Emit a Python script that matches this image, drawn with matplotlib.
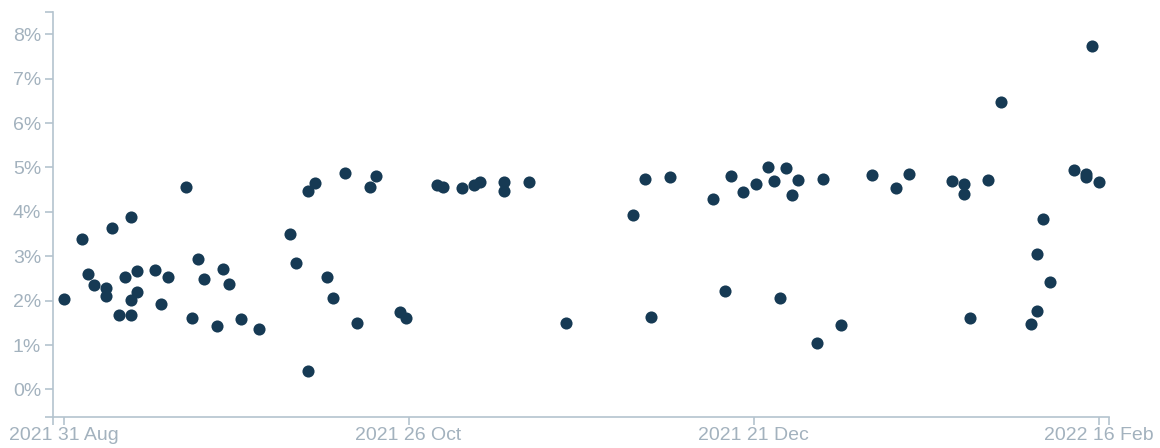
import pandas as pd
import numpy as np
import matplotlib
matplotlib.use('Agg')
import matplotlib.pyplot as plt
import matplotlib.dates as mdates
from matplotlib.ticker import FuncFormatter

dates = ['2021-08-31', '2021-09-03', '2021-09-04', '2021-09-05', '2021-09-07', '2021-09-07',
         '2021-09-08', '2021-09-09', '2021-09-10', '2021-09-11', '2021-09-11', '2021-09-11',
         '2021-09-12', '2021-09-12', '2021-09-15', '2021-09-16', '2021-09-17', '2021-09-20',
         '2021-09-21', '2021-09-22', '2021-09-23', '2021-09-25', '2021-09-26', '2021-09-27',
         '2021-09-29', '2021-10-02', '2021-10-07', '2021-10-08', '2021-10-10', '2021-10-10',
         '2021-10-11', '2021-10-13', '2021-10-14', '2021-10-16', '2021-10-18', '2021-10-20',
         '2021-10-21', '2021-10-25', '2021-10-26', '2021-10-31', '2021-11-01', '2021-11-04',
         '2021-11-06', '2021-11-07', '2021-11-11', '2021-11-11', '2021-11-15', '2021-11-21',
         '2021-12-02', '2021-12-04', '2021-12-05', '2021-12-08', '2021-12-15', '2021-12-17',
         '2021-12-18', '2021-12-20', '2021-12-22', '2021-12-24', '2021-12-25', '2021-12-26',
         '2021-12-27', '2021-12-28', '2021-12-29', '2022-01-01', '2022-01-02', '2022-01-05',
         '2022-01-10', '2022-01-14', '2022-01-16', '2022-01-23', '2022-01-25', '2022-01-25',
         '2022-01-26', '2022-01-29', '2022-01-31', '2022-02-05', '2022-02-06', '2022-02-06',
         '2022-02-07', '2022-02-08', '2022-02-12', '2022-02-14', '2022-02-14', '2022-02-15',
         '2022-02-16']
rates = [2.03, 3.39, 2.59, 2.36, 2.29, 2.11,
         3.63, 1.67, 2.54, 3.88, 2.01, 1.67,
         2.66, 2.20, 2.69, 1.93, 2.54, 4.56,
         1.62, 2.93, 2.49, 1.43, 2.72, 2.37,
         1.59, 1.36, 3.50, 2.85, 4.47, 0.42,
         4.65, 2.54, 2.06, 4.87, 1.49, 4.56,
         4.80, 1.75, 1.61, 4.60, 4.57, 4.54,
         4.61, 4.68, 4.68, 4.48, 4.68, 1.50,
         3.93, 4.75, 1.63, 4.79, 4.28, 2.22,
         4.81, 4.45, 4.62, 5.00, 4.69, 2.07,
         4.99, 4.37, 4.71, 1.04, 4.73, 1.46,
         4.83, 4.54, 4.86, 4.70, 4.62, 4.40,
         1.61, 4.71, 6.47, 1.48, 3.04, 1.76,
         3.84, 2.41, 4.95, 4.85, 4.78, 7.74,
         4.68]
y_ticks = [0, 1, 2, 3, 4, 5, 6, 7, 8]

axis_col = '#b4c3ce'
text_col = '#a3b2be'
dot_col = '#163a54'

plt.rcParams['font.family'] = ['Liberation Sans', 'DejaVu Sans']

x = mdates.date2num(pd.to_datetime(dates))

fig = plt.figure(figsize=(11.6, 4.48), dpi=100)
ax = fig.add_axes([53 / 1160, 1 - 417 / 448, 1056 / 1160, 405 / 448])
ax.scatter(x, rates, s=76, color=dot_col, linewidths=0, zorder=3)

# linear scale with a little padding either side of the data domain
xmin, xmax = x.min(), x.max()
pad = (xmax - xmin) * 10.5 / 1035
ax.set_xlim(xmin - pad, xmax + pad)
ax.set_ylim(-0.62, 8.5)

xt = np.linspace(xmin, xmax, 4)
ax.set_xticks(xt)
ax.set_xticklabels([mdates.num2date(v).strftime('%Y %d %b') for v in xt])
ax.set_xticks([xmin - pad, xmax + pad], minor=True)
ax.set_yticks(y_ticks)
ax.yaxis.set_major_formatter(FuncFormatter(lambda v, p: '%d%%' % v))
ax.set_yticks([-0.62, 8.5], minor=True)

for s in ['top', 'right']:
    ax.spines[s].set_visible(False)
for s in ['left', 'bottom']:
    ax.spines[s].set_color(axis_col)
    ax.spines[s].set_linewidth(1.2)

ax.tick_params(which='both', length=5.5, width=1.2, color=axis_col)
ax.tick_params(which='major', labelcolor=text_col, labelsize=14)
ax.tick_params(axis='x', pad=2)
ax.tick_params(axis='y', pad=3)

fig.savefig('out.png', dpi=100)
